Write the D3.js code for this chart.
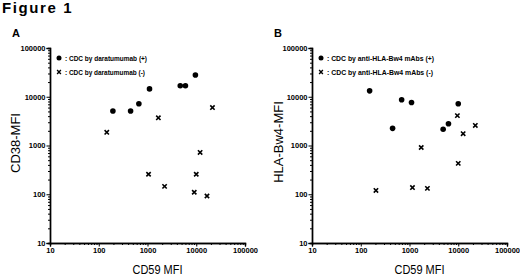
<!DOCTYPE html>
<html>
<head>
<meta charset="utf-8">
<script src="https://cdn.jsdelivr.net/npm/d3@7"></script>
<style>
  body { margin: 0; background: #fff; }
  svg { display: block; font-family: Arial, "Liberation Sans", sans-serif; }
</style>
</head>
<body>
<div id="chart"></div>
<script>
// tick values shared by both panels
var tickValues = [10, 100, 1000, 10000, 100000];

// Panel A: CD59 MFI vs CD38-MFI
var aPosX = [195, 450, 665, 1100, 4700, 6000, 9600];
var aPosY = [5100, 5100, 7200, 14500, 16800, 16800, 28000];
var aNegX = [146, 1670, 21500, 1050, 2240, 12000, 10000, 9100, 16600];
var aNegY = [1860, 3700, 6000, 257, 145, 720, 257, 110, 92];

// Panel B: CD59 MFI vs HLA-Bw4-MFI
var bPosX = [152, 690, 1100, 450, 4900, 6300, 10000];
var bPosY = [13200, 8700, 7600, 2250, 2150, 2800, 7200];
var bNegX = [9600, 22400, 12600, 1740, 10000, 205, 1150, 2330];
var bNegY = [4100, 2580, 1750, 910, 430, 120, 137, 132];

var svg = d3.select("#chart")
  .append("svg")
  .attr("width", 520)
  .attr("height", 277);

svg.append("text")
  .attr("x", 2)
  .attr("y", 13)
  .style("font-size", "15px")
  .style("font-weight", "bold")
  .style("letter-spacing", "1.6px")
  .text("Figure 1");

function panel(opt) {
  var g = svg.append("g")
    .attr("transform", "translate(" + opt.left + ",48)");
  var size = 195;

  var x = d3.scaleLog().domain([10, 100000]).range([0, size]);
  var y = d3.scaleLog().domain([10, 100000]).range([size, 0]);

  // minor ticks
  var minor = [];
  for (var d = 10; d < 100000; d *= 10) {
    for (var k = 2; k < 10; k++) minor.push(d * k);
  }

  g.append("g")
    .attr("transform", "translate(0," + size + ")")
    .call(d3.axisBottom(x).tickValues(minor).tickSize(2).tickFormat(""));
  g.append("g")
    .attr("transform", "translate(0," + size + ")")
    .call(d3.axisBottom(x).tickValues(tickValues).tickSize(3.5).tickPadding(1.5)
      .tickFormat(d3.format("d")));

  g.append("g")
    .call(d3.axisLeft(y).tickValues(minor).tickSize(2).tickFormat(""));
  g.append("g")
    .call(d3.axisLeft(y).tickValues(tickValues).tickSize(3.5).tickPadding(1)
      .tickFormat(d3.format("d")));

  g.selectAll(".domain").attr("stroke-width", 1.4).attr("stroke", "#000");
  g.selectAll(".tick line").attr("stroke-width", 1).attr("stroke", "#000");
  g.selectAll(".tick text")
    .attr("fill", "#000")
    .style("font-size", "7.5px")
    .style("font-weight", "bold")
    .style("font-family", "Arial, 'Liberation Sans', sans-serif");

  // filled circles: CDC (+)
  g.selectAll(".pos")
    .data(opt.posX)
    .enter()
    .append("circle")
    .attr("cx", function (d) { return x(d); })
    .attr("cy", function (d, i) { return y(opt.posY[i]); })
    .attr("r", 2.8)
    .style("fill", "#000");

  // crosses: CDC (-)
  var cross = d3.symbol().type(d3.symbolX).size(14);
  g.selectAll(".neg")
    .data(opt.negX)
    .enter()
    .append("path")
    .attr("d", cross)
    .attr("transform", function (d, i) {
      return "translate(" + x(d) + "," + y(opt.negY[i]) + ")";
    })
    .attr("fill", "none")
    .attr("stroke", "#000")
    .attr("stroke-width", 1.6);

  // legend
  g.append("circle").attr("cx", 9).attr("cy", 10).attr("r", 2.5).style("fill", "#000");
  g.append("path").attr("d", d3.symbol().type(d3.symbolX).size(11))
    .attr("transform", "translate(9,24)")
    .attr("stroke", "#000").attr("stroke-width", 1.4).attr("fill", "none");
  g.append("text").attr("x", 15).attr("y", 13)
    .style("font-size", "8px").style("font-weight", "bold")
    .attr("textLength", opt.legendW).attr("lengthAdjust", "spacingAndGlyphs")
    .text(opt.legend[0]);
  g.append("text").attr("x", 15).attr("y", 27)
    .style("font-size", "8px").style("font-weight", "bold")
    .attr("textLength", opt.legendW2).attr("lengthAdjust", "spacingAndGlyphs")
    .text(opt.legend[1]);

  // panel letter
  svg.append("text")
    .attr("x", opt.left - 38)
    .attr("y", 37)
    .style("font-size", "11px")
    .style("font-weight", "bold")
    .text(opt.letter);

  // axis labels
  g.append("text")
    .attr("x", size / 2 + 10)
    .attr("y", size + 31)
    .attr("text-anchor", "middle")
    .style("font-size", "12px")
    .attr("textLength", 50).attr("lengthAdjust", "spacingAndGlyphs")
    .text("CD59 MFI");
  g.append("text")
    .attr("transform", "translate(" + opt.yLabelX + "," + opt.yLabelY + ") rotate(-90)")
    .attr("text-anchor", "middle")
    .style("font-size", "13px")
    .text(opt.yLabel);
}

panel({
  left: 50, letter: "A",
  posX: aPosX, posY: aPosY, negX: aNegX, negY: aNegY,
  legend: [": CDC by daratumumab (+)", ": CDC by daratumumab (-)"],
  legendW: 82, legendW2: 80,
  yLabel: "CD38-MFI", yLabelX: -30, yLabelY: 95
});

panel({
  left: 312, letter: "B",
  posX: bPosX, posY: bPosY, negX: bNegX, negY: bNegY,
  legend: [": CDC by anti-HLA-Bw4 mAbs (+)", ": CDC by anti-HLA-Bw4 mAbs (-)"],
  legendW: 107, legendW2: 106,
  yLabel: "HLA-Bw4-MFI", yLabelX: -29, yLabelY: 94
});
</script>
</body>
</html>
